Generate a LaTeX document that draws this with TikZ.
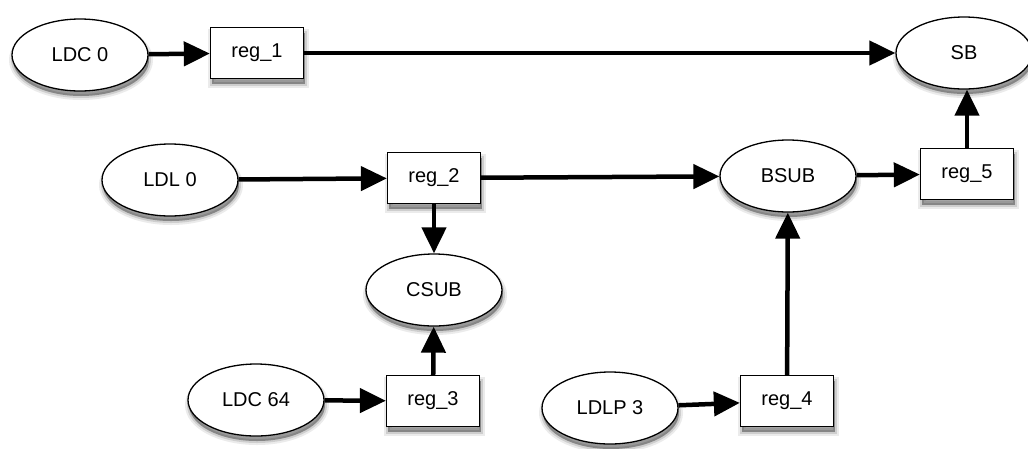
\documentclass[tikz,border=0pt]{standalone}
\usepackage{fontspec}
\setmainfont{Liberation Sans}
\usetikzlibrary{arrows.meta,shapes.geometric}
\begin{document}
\begin{tikzpicture}[x=1pt,y=-1pt,
  softshadow/.style={
    preaction={draw=black,fill=black,opacity=0.08,line width=8pt,transform canvas={xshift=1pt,yshift=-5pt}},
    preaction={draw=black,fill=black,opacity=0.12,line width=4pt,transform canvas={xshift=1pt,yshift=-5pt}},
    preaction={fill=black,opacity=0.2,transform canvas={xshift=1pt,yshift=-5pt}}},
  base/.style={draw=black,line width=1.3pt,fill=white,inner sep=0pt,
    font=\fontsize{20}{23}\selectfont,softshadow},
  oval/.style={base,ellipse,minimum width=136pt,minimum height=72pt},
  reg/.style={base,rectangle,minimum width=93pt,minimum height=51pt},
  conn/.style={line width=4.5pt,-{Triangle[length=26pt,width=24pt]}}]
\useasboundingbox (0,0) rectangle (1028,448);
\node[oval] (ldc0) at (80,55) {LDC 0};
\node[reg] (r1) at (257,53) {reg\_1};
\node[oval] (sb) at (964,53) {SB};
\node[oval] (ldl0) at (170,180) {LDL 0};
\node[reg] (r2) at (434,178) {reg\_2};
\node[oval] (bsub) at (788,176) {BSUB};
\node[reg] (r5) at (967,174) {reg\_5};
\node[oval] (csub) at (434,290) {CSUB};
\node[oval] (ldc64) at (256,400) {LDC 64};
\node[reg] (r3) at (433,401) {reg\_3};
\node[oval] (ldlp3) at (610,408) {LDLP 3};
\node[reg] (r4) at (787,401) {reg\_4};
\draw[conn] (ldc0) -- (r1);
\draw[conn] (r1) -- (sb);
\draw[conn] (ldl0) -- (r2);
\draw[conn] (r2) -- (bsub);
\draw[conn] (bsub) -- (r5);
\draw[conn] (r5.north) -- (r5.north |- sb.south);
\draw[conn] (r2) -- (csub);
\draw[conn] (ldc64) -- (r3);
\draw[conn] (r3) -- (csub);
\draw[conn] (ldlp3) -- (r4);
\draw[conn] (r4) -- (bsub);
\end{tikzpicture}
\end{document}
